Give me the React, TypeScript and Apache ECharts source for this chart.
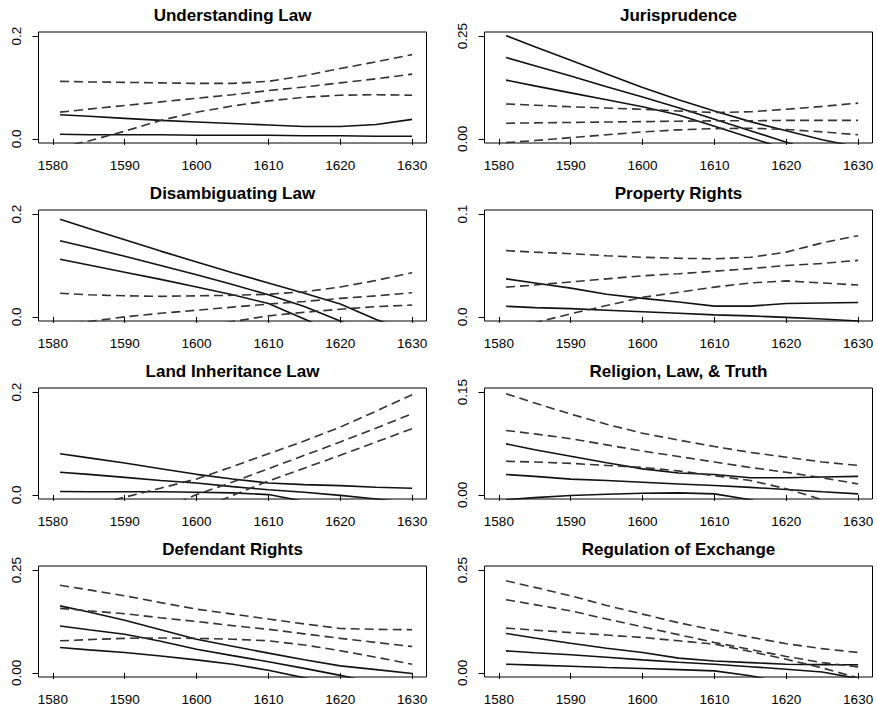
import React, { useEffect, useRef } from "react";
import * as echarts from "echarts";

// ---------- data ----------
const years = [1581, 1585, 1590, 1595, 1600, 1605, 1610, 1615, 1620, 1625, 1630];
const xTicks = [1580, 1590, 1600, 1610, 1620, 1630];

const panelTitles = [
  "Understanding Law",
  "Jurisprudence",
  "Disambiguating Law",
  "Property Rights",
  "Land Inheritance Law",
  "Religion, Law, & Truth",
  "Defendant Rights",
  "Regulation of Exchange",
];
const yMax = [0.2, 0.25, 0.2, 0.1, 0.2, 0.15, 0.25, 0.25];
const yTickLabels = [
  ["0.0", "0.2"],
  ["0.00", "0.25"],
  ["0.0", "0.2"],
  ["0.0", "0.1"],
  ["0.0", "0.2"],
  ["0.00", "0.15"],
  ["0.00", "0.25"],
  ["0.00", "0.25"],
];

// Understanding Law
const understandingSolid = [
  [0.047, 0.044, 0.04, 0.036, 0.033, 0.03, 0.027, 0.024, 0.024, 0.028, 0.038],
  [0.009, 0.008, 0.008, 0.008, 0.007, 0.007, 0.007, 0.006, 0.006, 0.005, 0.005],
];
const understandingDashed = [
  [0.112, 0.111, 0.11, 0.109, 0.108, 0.108, 0.112, 0.123, 0.137, 0.15, 0.164],
  [0.052, 0.058, 0.065, 0.072, 0.079, 0.086, 0.094, 0.101, 0.109, 0.117, 0.126],
  [-0.016, -0.004, 0.015, 0.036, 0.052, 0.064, 0.074, 0.081, 0.085, 0.086, 0.085],
];

// Jurisprudence
const jurisSolid = [
  [0.251, 0.224, 0.191, 0.158, 0.125, 0.095, 0.068, 0.042, 0.02, -0.002, -0.02],
  [0.198, 0.178, 0.153, 0.127, 0.102, 0.076, 0.048, 0.02, -0.008, -0.036, -0.06],
  [0.143, 0.129, 0.112, 0.095, 0.078, 0.058, 0.031, 0.003, -0.025, -0.05, -0.075],
];
const jurisDashed = [
  [0.085, 0.082, 0.078, 0.075, 0.072, 0.068, 0.064, 0.066, 0.072, 0.079, 0.087],
  [0.038, 0.039, 0.04, 0.041, 0.042, 0.043, 0.044, 0.044, 0.045, 0.045, 0.045],
  [-0.009, -0.004, 0.003, 0.01, 0.017, 0.022, 0.025, 0.026, 0.023, 0.017, 0.01],
];

// Disambiguating Law
const disambSolid = [
  [0.19, 0.172, 0.15, 0.128, 0.107, 0.086, 0.066, 0.046, 0.025, -0.005, -0.03],
  [0.148, 0.135, 0.118, 0.1, 0.082, 0.063, 0.043, 0.02, -0.008, -0.035, -0.06],
  [0.112, 0.101, 0.087, 0.073, 0.058, 0.043, 0.026, -0.004, -0.035, -0.06, -0.085],
];
const disambDashed = [
  [0.046, 0.043, 0.041, 0.04, 0.041, 0.042, 0.044, 0.049, 0.058, 0.071, 0.086],
  [-0.016, -0.009, 0.0, 0.007, 0.013, 0.019, 0.025, 0.03, 0.036, 0.041, 0.047],
  [-0.06, -0.05, -0.04, -0.03, -0.02, -0.009, 0.002, 0.009, 0.015, 0.02, 0.023],
];

// Property Rights
const propertySolid = [
  [0.037, 0.033, 0.028, 0.022, 0.018, 0.0145, 0.0105, 0.0105, 0.013, 0.0135, 0.014],
  [0.0103, 0.009, 0.008, 0.0065, 0.005, 0.0035, 0.002, 0.001, -0.0005, -0.002, -0.004],
];
const propertyDashed = [
  [0.0645, 0.063, 0.0615, 0.0595, 0.058, 0.057, 0.0565, 0.058, 0.063, 0.072, 0.079],
  [0.029, 0.031, 0.034, 0.037, 0.04, 0.042, 0.0445, 0.047, 0.05, 0.052, 0.055],
  [-0.013, -0.0058, 0.003, 0.011, 0.019, 0.024, 0.029, 0.033, 0.035, 0.033, 0.031],
];

// Land Inheritance Law
const landSolid = [
  [0.08, 0.072, 0.062, 0.051, 0.04, 0.031, 0.023, 0.02, 0.018, 0.015, 0.013],
  [0.044, 0.04, 0.034, 0.028, 0.023, 0.016, 0.01, 0.005, -0.001, -0.008, -0.015],
  [0.0065, 0.006, 0.006, 0.006, 0.005, 0.004, 0.0006, -0.0126, -0.03, -0.05, -0.07],
];
const landDashed = [
  [-0.036, -0.022, -0.0045, 0.0131, 0.031, 0.055, 0.08, 0.105, 0.132, 0.163, 0.195],
  [-0.1, -0.08, -0.06, -0.03, 0.0006, 0.025, 0.051, 0.077, 0.103, 0.13, 0.158],
  [-0.11, -0.09, -0.07, -0.05, -0.03, -0.0013, 0.027, 0.052, 0.077, 0.103, 0.129],
];

// Religion, Law, & Truth
const religionSolid = [
  [0.0745, 0.066, 0.0565, 0.047, 0.038, 0.032, 0.0297, 0.025, 0.025, 0.026, 0.027],
  [0.0297, 0.027, 0.023, 0.021, 0.0185, 0.016, 0.0136, 0.011, 0.0078, 0.0045, 0.0015],
  [-0.007, -0.004, -0.001, 0.001, 0.0024, 0.003, 0.0015, -0.007, -0.02, -0.03, -0.04],
];
const religionDashed = [
  [0.1476, 0.134, 0.118, 0.103, 0.09, 0.08, 0.0706, 0.062, 0.055, 0.048, 0.043],
  [0.094, 0.089, 0.082, 0.073, 0.064, 0.056, 0.048, 0.04, 0.033, 0.025, 0.016],
  [0.049, 0.048, 0.046, 0.043, 0.04, 0.035, 0.028, 0.021, 0.009, -0.007, -0.025],
];

// Defendant Rights
const defendantSolid = [
  [0.163, 0.148, 0.128, 0.105, 0.082, 0.065, 0.048, 0.032, 0.017, 0.008, -0.0016],
  [0.114, 0.105, 0.094, 0.077, 0.0576, 0.042, 0.027, 0.011, -0.006, -0.025, -0.045],
  [0.0617, 0.056, 0.0495, 0.041, 0.0317, 0.021, 0.0065, -0.012, -0.03, -0.05, -0.07],
];
const defendantDashed = [
  [0.213, 0.202, 0.1875, 0.171, 0.155, 0.143, 0.131, 0.119, 0.108, 0.106, 0.105],
  [0.157, 0.151, 0.144, 0.134, 0.125, 0.115, 0.106, 0.095, 0.084, 0.074, 0.064],
  [0.078, 0.081, 0.084, 0.085, 0.084, 0.082, 0.078, 0.068, 0.054, 0.038, 0.021],
];

// Regulation of Exchange
const exchangeSolid = [
  [0.096, 0.085, 0.072, 0.06, 0.0495, 0.036, 0.029, 0.025, 0.021, 0.02, 0.0197],
  [0.0536, 0.049, 0.044, 0.038, 0.0317, 0.026, 0.021, 0.015, 0.009, 0.002, -0.014],
  [0.021, 0.019, 0.016, 0.013, 0.0105, 0.008, 0.005, -0.007, -0.025, -0.04, -0.06],
];
const exchangeDashed = [
  [0.224, 0.208, 0.1875, 0.164, 0.143, 0.122, 0.104, 0.087, 0.071, 0.059, 0.0497],
  [0.178, 0.166, 0.151, 0.131, 0.112, 0.093, 0.074, 0.057, 0.04, 0.025, 0.0146],
  [0.109, 0.104, 0.098, 0.092, 0.086, 0.078, 0.07, 0.052, 0.033, 0.012, -0.012],
];

const solidSets = [
  understandingSolid,
  jurisSolid,
  disambSolid,
  propertySolid,
  landSolid,
  religionSolid,
  defendantSolid,
  exchangeSolid,
];
const dashedSets = [
  understandingDashed,
  jurisDashed,
  disambDashed,
  propertyDashed,
  landDashed,
  religionDashed,
  defendantDashed,
  exchangeDashed,
];

// ---------- layout ----------
const FONT = "'Liberation Sans', Arial, Helvetica, sans-serif";
const colLeft = [38.5, 484.5];
const rowTop = [32, 210, 388, 566];
const gridW = 388;
const gridH = 111;

export default function App() {
  const ref = useRef<HTMLDivElement>(null);

  useEffect(() => {
    if (!ref.current) return;
    const chart = echarts.init(ref.current, undefined, { renderer: "svg" });

    const grids: any[] = [];
    const xAxes: any[] = [];
    const yAxes: any[] = [];
    const series: any[] = [];
    const graphics: any[] = [];

    panelTitles.forEach((title, i) => {
      const col = i % 2;
      const row = Math.floor(i / 2);
      const left = colLeft[col];
      const top = rowTop[row];
      const M = yMax[i];
      grids.push({
        left,
        top,
        width: gridW,
        height: gridH,
        show: true,
        borderColor: "#000",
        borderWidth: 1,
        backgroundColor: "transparent",
        containLabel: false,
      });
      xAxes.push({
        type: "value",
        gridIndex: i,
        min: 1578,
        max: 1632,
        axisLine: { show: false },
        splitLine: { show: false },
        axisTick: {
          show: true,
          length: 6,
          customValues: xTicks,
          lineStyle: { color: "#000", width: 1 },
        },
        axisLabel: {
          show: true,
          customValues: xTicks,
          margin: 15,
          color: "#000",
          fontSize: 13.5,
          fontFamily: FONT,
          formatter: (v: number) => String(v),
        },
      });
      const labels = yTickLabels[i];
      yAxes.push({
        type: "value",
        gridIndex: i,
        min: -0.04 * M,
        max: 1.04 * M,
        axisLine: { show: false },
        splitLine: { show: false },
        axisTick: {
          show: true,
          length: 6,
          customValues: [0, M],
          lineStyle: { color: "#000", width: 1 },
        },
        axisLabel: {
          show: true,
          customValues: [0, M],
          rotate: 90,
          margin: 15,
          color: "#000",
          fontSize: 13.5,
          fontFamily: FONT,
          formatter: (v: number) => (Math.abs(v) < 1e-9 ? labels[0] : labels[1]),
        },
      });
      solidSets[i].forEach((vals, k) => {
        series.push({
          type: "line",
          name: `${title} solid ${k}`,
          xAxisIndex: i,
          yAxisIndex: i,
          data: years.map((y, j) => [y, vals[j]]),
          symbol: "none",
          clip: true,
          silent: true,
          lineStyle: { color: "#111", width: 1.6, type: "solid" },
        });
      });
      dashedSets[i].forEach((vals, k) => {
        series.push({
          type: "line",
          name: `${title} dashed ${k}`,
          xAxisIndex: i,
          yAxisIndex: i,
          data: years.map((y, j) => [y, vals[j]]),
          symbol: "none",
          clip: true,
          silent: true,
          lineStyle: { color: "#333", width: 1.6, type: [9, 5] },
        });
      });
      graphics.push({
        type: "text",
        x: left + gridW / 2,
        y: top - 17,
        style: {
          text: title,
          fill: "#000",
          fontSize: 17,
          fontWeight: "bold",
          fontFamily: FONT,
          align: "center",
          verticalAlign: "middle",
        },
      });
    });

    chart.setOption({
      animation: false,
      backgroundColor: "#fff",
      grid: grids,
      xAxis: xAxes,
      yAxis: yAxes,
      series,
      graphic: graphics,
    });

    return () => chart.dispose();
  }, []);

  return (
    <div
      ref={ref}
      style={{ position: "fixed", left: 0, top: 0, width: 877, height: 712, background: "#fff" }}
    />
  );
}
